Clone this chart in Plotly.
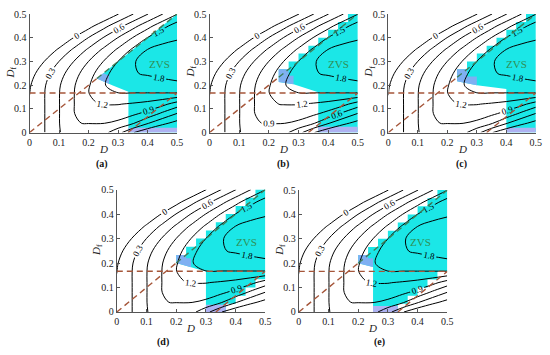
import plotly.graph_objects as go

# ---------------- data ----------------
D_grid = [0.0, 0.05, 0.10, 0.15, 0.20, 0.25, 0.30, 0.35, 0.40, 0.45, 0.50]
Df_grid = [0.0, 0.04, 0.08, 0.12, 0.1667, 0.20, 0.25, 0.30, 0.35, 0.40, 0.45, 0.50]
P_grid = [
    [0.02, 0.29, 0.59, 0.70, 0.70, 0.70, 0.40, 0.02, -0.23, -0.38, -0.50],
    [0.02, 0.29, 0.59, 0.89, 0.91, 0.91, 0.84, 0.64, 0.33, 0.08, -0.10],
    [0.02, 0.29, 0.59, 0.89, 1.06, 1.06, 1.04, 0.96, 0.81, 0.54, 0.29],
    [0.02, 0.29, 0.59, 0.89, 1.18, 1.21, 1.21, 1.17, 1.11, 0.99, 0.75],
    [-0.005, 0.29, 0.59, 0.89, 1.19, 1.49, 1.495, 1.495, 1.495, 1.495, 1.495],
    [-0.028, 0.272, 0.572, 0.872, 1.172, 1.472, 1.651, 1.674, 1.697, 1.720, 1.744],
    [-0.123, 0.178, 0.478, 0.778, 1.078, 1.378, 1.678, 1.785, 1.823, 1.861, 1.899],
    [-0.298, 0.002, 0.302, 0.602, 0.902, 1.202, 1.502, 1.790, 1.840, 1.880, 1.920],
    [-0.554, -0.254, 0.046, 0.346, 0.646, 0.946, 1.246, 1.546, 1.806, 1.842, 1.878],
    [-0.892, -0.592, -0.292, 0.008, 0.308, 0.608, 0.908, 1.208, 1.508, 1.753, 1.780],
    [-1.31, -1.01, -0.71, -0.41, -0.11, 0.19, 0.49, 0.79, 1.09, 1.39, 1.647],
    [-1.81, -1.51, -1.21, -0.91, -0.61, -0.31, -0.01, 0.29, 0.59, 0.89, 1.19],
]
level_start, level_end, level_step = 0.0, 1.8, 0.3
tick_vals = [0, 0.1, 0.2, 0.3, 0.4, 0.5]
tick_text = ["0", "0.1", "0.2", "0.3", "0.4", "0.5"]
panel_names = ["(a)", "(b)", "(c)", "(d)", "(e)"]

# ZVS regions (polygon outlines in D / Df)
zvs_a_D = [0.335, 0.5, 0.5, 0.228, 0.28, 0.335]
zvs_a_Df = [0.0, 0.0, 0.5, 0.228, 0.20, 0.172]
zvs_b_D = [0.3667, 0.5, 0.5, 0.4667, 0.4667, 0.4333, 0.4333, 0.4, 0.4, 0.3667, 0.3667, 0.3333, 0.3333,
           0.3, 0.3, 0.2667, 0.2667, 0.2333, 0.2333, 0.2333, 0.2833, 0.3667]
zvs_b_Df = [0.0, 0.0, 0.5, 0.5, 0.4667, 0.4667, 0.4333, 0.4333, 0.4, 0.4, 0.3667, 0.3667, 0.3333,
            0.3333, 0.3, 0.3, 0.2667, 0.2667, 0.2333, 0.2133, 0.2033, 0.17]
zvs_c_D = [0.4, 0.5, 0.5, 0.4667, 0.4667, 0.4333, 0.4333, 0.4, 0.4, 0.3667, 0.3667, 0.3333, 0.3333,
           0.3, 0.3, 0.2667, 0.2667, 0.2333, 0.2333, 0.2333, 0.3, 0.4]
zvs_c_Df = [0.0, 0.0, 0.5, 0.5, 0.4667, 0.4667, 0.4333, 0.4333, 0.4, 0.4, 0.3667, 0.3667, 0.3333,
            0.3333, 0.3, 0.3, 0.2667, 0.2667, 0.2333, 0.2167, 0.20, 0.1833]
zvs_d_D = [0.3, 0.3667, 0.3667, 0.4, 0.4, 0.4333, 0.4333, 0.4667, 0.4667, 0.5,
           0.5, 0.4667, 0.4667, 0.4333, 0.4333, 0.4, 0.4, 0.3667, 0.3667, 0.3333, 0.3333,
           0.3, 0.3, 0.2667, 0.2667, 0.2333, 0.2333, 0.2, 0.2, 0.3]
zvs_d_Df = [0.0, 0.0, 0.0333, 0.0333, 0.0667, 0.0667, 0.1, 0.1, 0.1333, 0.1333,
            0.5, 0.5, 0.4667, 0.4667, 0.4333, 0.4333, 0.4, 0.4, 0.3667, 0.3667, 0.3333,
            0.3333, 0.3, 0.3, 0.2667, 0.2667, 0.2333, 0.2333, 0.2, 0.165]
zvs_e_D = [0.25, 0.3333, 0.3333, 0.3667, 0.3667, 0.4, 0.4, 0.4333, 0.4333, 0.4667, 0.4667, 0.5,
           0.5, 0.4667, 0.4667, 0.4333, 0.4333, 0.4, 0.4, 0.3667, 0.3667, 0.3333, 0.3333,
           0.3, 0.3, 0.2667, 0.2667, 0.2333, 0.2333, 0.2, 0.2, 0.25]
zvs_e_Df = [0.0, 0.0, 0.0333, 0.0333, 0.0667, 0.0667, 0.1, 0.1, 0.1333, 0.1333, 0.1667, 0.1667,
            0.5, 0.5, 0.4667, 0.4667, 0.4333, 0.4333, 0.4, 0.4, 0.3667, 0.3667, 0.3333,
            0.3333, 0.3, 0.3, 0.2667, 0.2667, 0.2333, 0.2333, 0.2, 0.185]

# lighter blue patches at the wedge tips, lavender strips at the bottom
tip_a_D = [0.228, 0.27, 0.27, 0.25]
tip_a_Df = [0.228, 0.205, 0.24, 0.25]
tip_b_D = [0.2333, 0.2833, 0.2833, 0.2667, 0.2667, 0.2333]
tip_b_Df = [0.2133, 0.2033, 0.24, 0.24, 0.2667, 0.2667]
tip_c_D = [0.2333, 0.3, 0.3, 0.2667, 0.2667, 0.2333]
tip_c_Df = [0.2167, 0.20, 0.2367, 0.2367, 0.2667, 0.2667]
tip_d_D = [0.2, 0.25, 0.25, 0.2333, 0.2333, 0.2]
tip_d_Df = [0.2, 0.1825, 0.22, 0.22, 0.2333, 0.2333]
tip_e_D = [0.2, 0.25, 0.25, 0.2333, 0.2333, 0.2]
tip_e_Df = [0.2, 0.185, 0.22, 0.22, 0.2333, 0.2333]
low_a_D, low_a_Df = [0.335, 0.5, 0.5, 0.335], [0.0, 0.0, 0.02, 0.02]
low_b_D, low_b_Df = [0.3667, 0.5, 0.5, 0.3667], [0.0, 0.0, 0.025, 0.025]
low_c_D, low_c_Df = [0.4, 0.5, 0.5, 0.4], [0.0, 0.0, 0.02, 0.02]
low_d_D, low_d_Df = [0.3, 0.3667, 0.3667, 0.3], [0.0, 0.0, 0.03, 0.03]
low_e_D, low_e_Df = [0.25, 0.3333, 0.3333, 0.25], [0.0, 0.0, 0.025, 0.025]

# boundary (dashed) lines
line_h_D, line_h_Df = [0.0, 0.5], [1 / 6, 1 / 6]
line_diag_D, line_diag_Df = [0.0, 0.5], [0.0, 0.5]
line_low_D, line_low_Df = [1 / 3, 0.5], [0.0, 1 / 6]
tip_point = [0.228, 0.2333, 0.2333, 0.2, 0.2]
zvs_text_D = [0.44, 0.435, 0.435, 0.435, 0.41]
zvs_text_Df = [0.29, 0.29, 0.29, 0.285, 0.285]

zvs_polys = [(zvs_a_D, zvs_a_Df), (zvs_b_D, zvs_b_Df), (zvs_c_D, zvs_c_Df), (zvs_d_D, zvs_d_Df), (zvs_e_D, zvs_e_Df)]
tip_polys = [(tip_a_D, tip_a_Df), (tip_b_D, tip_b_Df), (tip_c_D, tip_c_Df), (tip_d_D, tip_d_Df), (tip_e_D, tip_e_Df)]
low_polys = [(low_a_D, low_a_Df), (low_b_D, low_b_Df), (low_c_D, low_c_Df), (low_d_D, low_d_Df), (low_e_D, low_e_Df)]

# ---------------- layout (pixels of the 550x355 canvas) ----------------
W, H = 550, 355
panels = [  # x0, x1, ytop, ybottom (pixels)
    (27.0, 177.0, 8.3, 131.0),
    (210.0, 360.7, 8.3, 131.0),
    (391.7, 541.7, 8.3, 131.0),
    (115.7, 266.7, 190.0, 316.7),
    (300.7, 451.7, 190.5, 316.7),
]
title_D_pos = [(102, 148), (285, 148), (467, 148), (191, 333), (376, 333)]
title_Df_pos = [(8, 69), (191, 68), (372, 68), (96, 252), (282, 252)]
letter_pos = [(101, 164), (285, 164), (466, 164), (163, 348), (383, 348)]

SERIF = "Liberation Serif"
CYAN = "#1BE7E7"
BLUE = "#7FB0F2"
LAV = "#AEB2F2"
BROWN = "#A5563A"
GREEN = "#3E7E58"

fig = go.Figure()
shapes = []
annotations = []


def path_of(xs, ys):
    return "M " + " L ".join(f"{x},{y}" for x, y in zip(xs, ys)) + " Z"


for i, (x0, x1, yt, yb) in enumerate(panels):
    n = "" if i == 0 else str(i + 1)
    xa, ya = "x" + n, "y" + n
    fig.update_layout(**{
        "xaxis" + n: dict(domain=[x0 / W, x1 / W], range=[0, 0.5], anchor=ya,
                          tickvals=tick_vals, ticktext=tick_text, ticks="inside", ticklen=3,
                          tickcolor="#555", showline=True, linecolor="#555", linewidth=1,
                          showgrid=False, zeroline=False,
                          tickfont=dict(family=SERIF, size=10, color="#222")),
        "yaxis" + n: dict(domain=[1 - yb / H, 1 - yt / H], range=[0, 0.5], anchor=xa,
                          tickvals=tick_vals, ticktext=tick_text, ticks="inside", ticklen=3,
                          tickcolor="#555", showline=True, linecolor="#555", linewidth=1,
                          showgrid=False, zeroline=False,
                          tickfont=dict(family=SERIF, size=10, color="#222")),
    })
    for (px, py), col in ((zvs_polys[i], CYAN), (tip_polys[i], BLUE), (low_polys[i], LAV)):
        shapes.append(dict(type="path", path=path_of(px, py), xref=xa, yref=ya,
                           fillcolor=col, line=dict(width=0), layer="below"))

    fig.add_trace(go.Contour(
        x=D_grid, y=Df_grid, z=P_grid, xaxis=xa, yaxis=ya,
        autocontour=False,
        contours=dict(start=level_start, end=level_end, size=level_step, coloring="none",
                      showlabels=True, labelformat=".1~f",
                      labelfont=dict(family=SERIF, size=9, color="black")),
        line=dict(color="black", width=1, smoothing=1.0),
        showscale=False, hoverinfo="skip"))

    dash = dict(color=BROWN, width=1.4, dash="6px,4px")
    fig.add_trace(go.Scatter(x=line_h_D, y=line_h_Df, mode="lines", line=dash,
                             xaxis=xa, yaxis=ya, showlegend=False, hoverinfo="skip"))
    fig.add_trace(go.Scatter(x=[line_diag_D[0], tip_point[i]], y=[line_diag_Df[0], tip_point[i]],
                             mode="lines", line=dash, xaxis=xa, yaxis=ya, showlegend=False,
                             hoverinfo="skip"))
    fig.add_trace(go.Scatter(x=[tip_point[i], line_diag_D[1]], y=[tip_point[i], line_diag_Df[1]],
                             mode="lines", line=dict(color=GREEN, width=1.4, dash="6px,4px"),
                             xaxis=xa, yaxis=ya, showlegend=False, hoverinfo="skip"))
    fig.add_trace(go.Scatter(x=line_low_D, y=line_low_Df, mode="lines", line=dash,
                             xaxis=xa, yaxis=ya, showlegend=False, hoverinfo="skip"))

    annotations.append(dict(x=zvs_text_D[i], y=zvs_text_Df[i], xref=xa, yref=ya, text="ZVS",
                            xanchor="center", yanchor="middle", showarrow=False,
                            font=dict(family=SERIF, size=11, color="#2F8F55")))
    tx, ty = title_D_pos[i]
    annotations.append(dict(x=tx / W, y=1 - ty / H, xref="paper", yref="paper", text="<i>D</i>",
                            xanchor="center", yanchor="middle", showarrow=False,
                            font=dict(family=SERIF, size=11, color="#222")))
    fx, fy = title_Df_pos[i]
    annotations.append(dict(x=fx / W, y=1 - fy / H, xref="paper", yref="paper",
                            text="<i>D</i><sub>f</sub>", textangle=-90,
                            xanchor="center", yanchor="middle", showarrow=False,
                            font=dict(family=SERIF, size=11, color="#222")))
    lx, ly = letter_pos[i]
    annotations.append(dict(x=lx / W, y=1 - ly / H, xref="paper", yref="paper",
                            text="<b>" + panel_names[i] + "</b>",
                            xanchor="center", yanchor="middle", showarrow=False,
                            font=dict(family=SERIF, size=10, color="#111")))

fig.update_layout(width=W, height=H, margin=dict(l=0, r=0, t=0, b=0),
                  paper_bgcolor="white", plot_bgcolor="white", showlegend=False,
                  shapes=shapes, annotations=annotations)
fig.write_html("out.html", config={"displayModeBar": False},
               post_script="document.body.style.margin='0px';")
